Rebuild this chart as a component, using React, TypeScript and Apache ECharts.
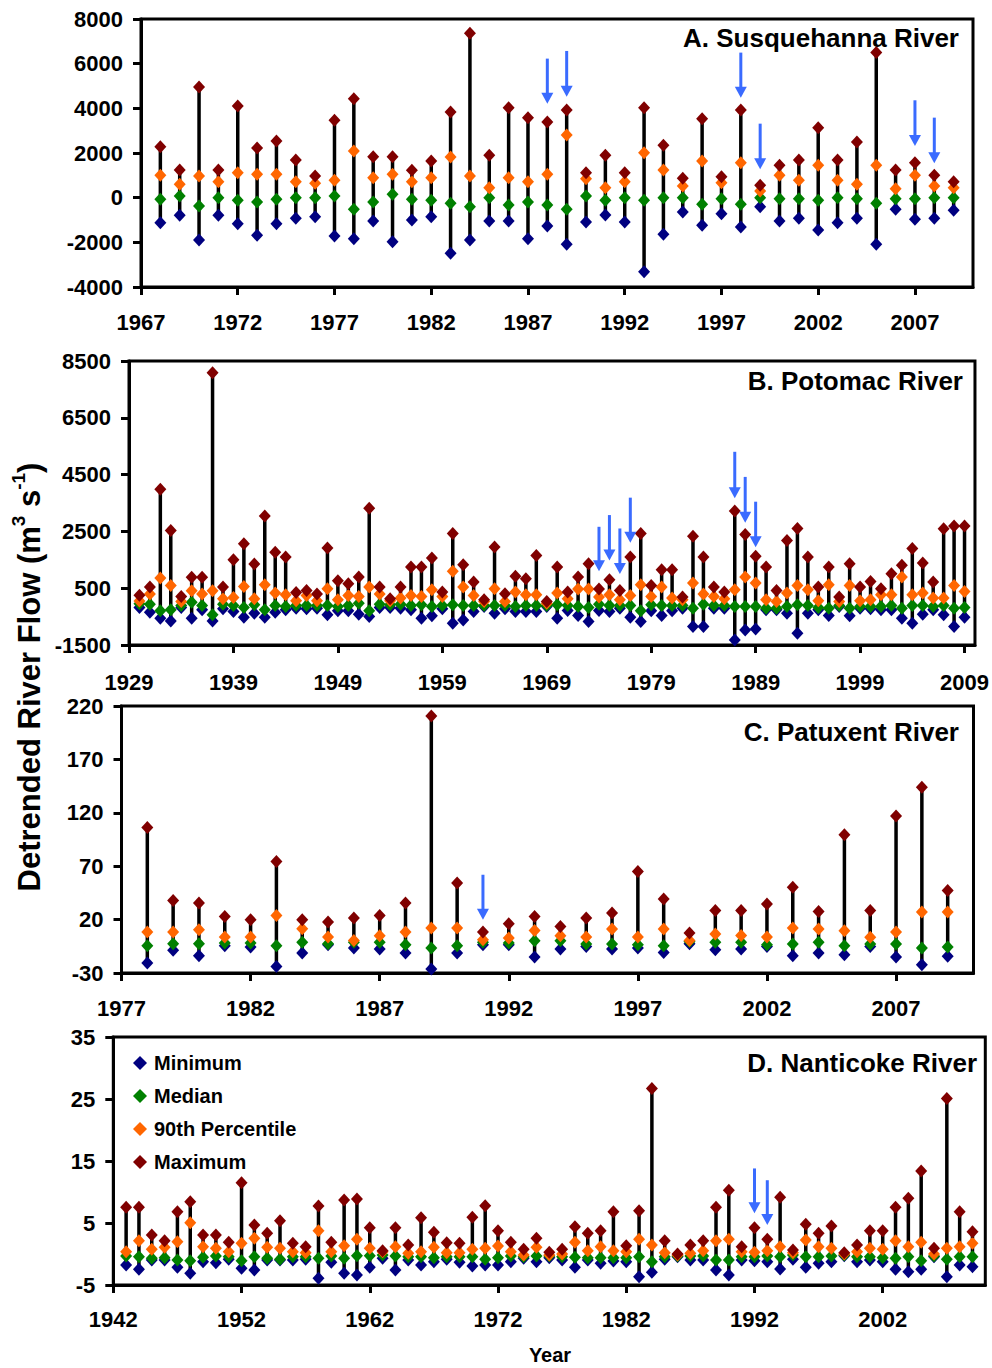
import React, { useEffect, useRef } from "react";
import * as echarts from "echarts";

const FONT = "'Liberation Sans', Arial, Helvetica, sans-serif";
const C_MIN = "#000080";
const C_MED = "#008000";
const C_P90 = "#FF6600";
const C_MAX = "#800000";
const C_ARROW = "#3A6BFF";

// ---------- A. Susquehanna River (1968-2009) ----------
const firstYearA = 1968;
const minA = [-1120, -790, -1896, -790, -1165, -1687, -1165, -926, -851, -1717, -1836, -1045, -1971, -1000, -851, -2493, -1896, -1045, -1045, -1836, -1269,
  -2090, -1090, -776, -1090, -3314, -1642, -642, -1239, -717, -1314, -403, -1045, -926, -1448, -1120, -926, -2090, -522, -970, -926, -567];
const medA = [-75, 75, -373, 0, -120, -194, -75, 0, 0, 75, -522, -194, 149, -75, -120, -254, -403, 0, -328, -194, -328,
  -522, 75, -120, 0, -120, 0, 0, -299, -45, -299, 0, -45, -45, -120, 0, -45, -254, -45, -45, 0, 0];
const p90A = [1000, 597, 970, 717, 1120, 1045, 1045, 717, 642, 776, 2090, 896, 1045, 717, 896, 1821, 970, 448, 896, 717, 1045,
  2807, 851, 448, 717, 2015, 1239, 523, 1642, 672, 1568, 299, 1000, 776, 1448, 776, 597, 1448, 403, 1000, 523, 448];
const maxA = [2284, 1240, 4957, 1240, 4106, 2225, 2538, 1687, 970, 3464, 4434, 1836, 1836, 1224, 1642, 3837, 7360, 1896, 4031, 3583, 3389,
  3927, 1120, 1896, 1120, 4031, 2344, 866, 3538, 941, 3927, 552, 1448, 1687, 3135, 1687, 2493, 6495, 1239, 1568, 1000, 717];
const arrowsA = [[1988, 6226, 4210], [1989, 6569, 4524], [1998, 6495, 4479], [1999, 3314, 1269], [2007, 4360, 2314], [2008, 3583, 1538]];
const xTicksA = [1967, 1972, 1977, 1982, 1987, 1992, 1997, 2002, 2007];
const yTicksA = [-4000, -2000, 0, 2000, 4000, 6000, 8000];

// ---------- B. Potomac River (1930-2009) ----------
const firstYearB = 1930;
const minB = [-180, -345, -557, -651, -180, -557, -262, -651, -227, -321, -521, -380, -521, -345, -262, -203, -227, -203, -439, -297,
  -297, -415, -498, -180, -180, -203, -262, -557, -474, -227, -734, -616, -321, -144, -380, -227, -321, -321, -321, -144,
  -557, -286, -462, -675, -286, -321, -203, -521, -675, -297, -462, -297, -203, -851, -851, -203, -203, -1323, -969, -934,
  -262, -262, -380, -1087, -380, -262, -462, -144, -474, -203, -227, -262, -262, -557, -734, -415, -262, -439, -851, -521];
const medB = [-50, -62, -297, -262, -109, 9, -109, -439, -62, -109, -180, -85, -262, -109, -144, -109, -109, -109, -109, -144,
  -109, -26, -297, -62, -85, -62, -109, -85, -144, -109, -85, -109, -109, -109, -109, -109, -144, -109, -109, -109,
  -85, -109, -144, -180, -62, -109, -109, -109, -297, -85, -109, -109, -109, -203, -62, -109, -109, -144, -144, -144,
  -203, -203, -144, -85, -109, -180, -203, -109, -203, -144, -144, -144, -109, -203, -109, -109, -144, -109, -203, -180];
const p90B = [50, 292, 858, 599, 33, 410, 292, 410, 127, 174, 563, 127, 622, 327, 268, 56, 245, 56, 481, 92,
  245, 209, 540, 292, 56, 151, 245, 209, 445, 209, 1094, 540, 245, 33, 481, 33, 363, 268, 268, -26,
  327, 127, 469, 469, 186, 268, 92, 245, 622, 209, 540, 151, 92, 681, 292, 209, 127, 445, 894, 681,
  92, 33, 327, 599, 445, 56, 622, 33, 599, 56, 92, 268, 268, 894, 268, 327, 151, 151, 599, 386];
const maxB = [250, 540, 3982, 2532, 210, 882, 882, 8085, 540, 1506, 2061, 1353, 3039, 1766, 1601, 351, 422, 292, 1919, 764,
  658, 894, 3311, 540, 127, 540, 1247, 1247, 1565, 363, 2426, 1330, 717, 92, 1955, 304, 917, 834, 1648, 33,
  1247, 363, 894, 1365, 469, 799, 422, 1601, 2426, 599, 1153, 1153, 186, 2332, 1601, 540, 363, 3216, 2391, 1624,
  1247, 422, 2178, 2603, 1601, 540, 1247, 186, 1365, 540, 740, 481, 1011, 1306, 1896, 1388, 717, 2591, 2686, 2686];
const arrowsB = [[1974, 2662, 1094], [1975, 3075, 1471], [1976, 2603, 1000], [1977, 3688, 2096], [1987, 5303, 3664], [1988, 4419, 2803], [1989, 3546, 1943]];
const xTicksB = [1929, 1939, 1949, 1959, 1969, 1979, 1989, 1999, 2009];
const yTicksB = [-1500, 500, 2500, 4500, 6500, 8500];

// ---------- C. Patuxent River (1978-2009) ----------
const firstYearC = 1978;
const minC = [-20.6, -8.8, -13.8, -4.4, -5.7, -23.8, -11.3, -3.5, -6.6, -7.6, -11.3, -26.3, -11.3, -3.5, -3.5, -15.0,
  -7.6, -5.1, -7.6, -6.6, -10.7, -2.6, -8.2, -7.6, -5.1, -13.8, -11.3, -12.9, -5.1, -15.0, -22.2, -14.4];
const medC = [-4.4, -2.6, -2.6, -1.9, -1.9, -4.4, -1.3, -2.6, -1.3, -1.3, -3.5, -6.6, -4.4, -1.3, -1.9, 0.2,
  0.2, -2.9, -2.9, -3.5, -4.4, -0.4, -1.3, -1.3, -3.5, -2.9, -1.3, -4.4, -2.9, -2.9, -6.6, -5.7];
const p90C = [8.3, 8.3, 10.5, 3.7, 3.7, 23.9, 11.5, 3.7, 0.5, 4.9, 8.3, 12.1, 12.1, 1.2, 2.7, 9.9,
  4.9, 3.7, 11.1, 3.7, 11.1, 0.5, 6.5, 5.2, 3.7, 12.1, 11.1, 9.6, 3.4, 8.3, 27.0, 27.0];
const maxC = [106.2, 38.0, 35.5, 23.0, 19.9, 74.4, 19.9, 17.7, 21.4, 23.9, 35.5, 210.6, 54.2, 8.3, 16.1, 23.0,
  13.6, 21.4, 26.1, 65.1, 39.2, 7.4, 28.6, 28.6, 34.5, 50.4, 27.7, 99.4, 28.6, 117.1, 143.9, 47.3];
const arrowsC = [[1991, 62, 19.9]];
const xTicksC = [1977, 1982, 1987, 1992, 1997, 2002, 2007];
const yTicksC = [-30, 20, 70, 120, 170, 220];

// ---------- D. Nanticoke River (1943-2009) ----------
const firstYearD = 1943;
const minD = [-1.77, -2.47, -0.97, -0.97, -2.15, -3.12, -1.24, -1.40, -0.86, -2.31, -2.58, -0.97, -0.97, -0.97, -0.86, -3.92, -1.34, -3.12, -3.39, -2.15, -0.70, -2.58,
  -0.97, -1.77, -1.24, -0.86, -1.34, -1.94, -1.77, -1.77, -1.24, -0.70, -1.24, -0.59, -0.97, -2.15, -0.97, -1.51, -1.13, -1.24, -3.66, -2.96, -0.86, -0.43, -0.97,
  -0.97, -2.58, -3.39, -0.97, -1.08, -1.24, -2.42, -0.86, -2.15, -1.51, -1.24, -0.27, -1.24, -0.97, -1.24, -2.47, -2.85, -2.47, -0.43, -3.66, -1.77, -2.04];
const medD = [-0.32, -0.43, -0.70, -0.59, -0.97, -1.08, -0.54, -0.32, -0.43, -1.08, -0.43, -0.70, -0.86, -0.43, -0.43, -0.70, -0.32, -0.70, -0.27, -0.27, -0.16, -0.32,
  -0.43, -0.43, -0.59, -0.43, -0.43, -0.43, -0.86, -0.59, -0.32, -0.43, -0.32, -0.32, -0.43, -0.54, -0.59, -0.59, -0.59, -0.59, -0.43, -1.24, -0.43, -0.32, -0.32,
  -0.32, -0.97, -0.97, -0.43, -0.43, -0.32, -0.43, -0.16, -0.43, -0.43, -0.32, -0.16, -0.43, -0.43, -0.59, -0.70, -0.43, -1.08, -0.32, -0.86, -0.43, -0.43];
const p90D = [0.38, 2.15, 0.75, 1.07, 1.99, 5.05, 1.18, 0.91, 0.38, 1.72, 2.53, 1.07, 0.91, 0.38, 0.21, 3.76, 0.38, 1.34, 2.37, 0.91, 0.38, 1.18,
  0.11, 0.38, 1.07, 0.21, 0.21, 0.75, 0.91, 1.29, 0.38, -0.16, 1.07, -0.16, 0.0, 1.88, 0.54, 1.18, 0.54, 0.38, 2.37, 1.45, 0.21, -0.16, 0.11,
  0.54, 2.15, 2.37, 0.38, 0.27, 0.54, 1.18, 0.21, 2.26, 1.18, 0.91, 0.0, 0.38, 0.91, 0.75, 2.15, 1.18, 1.88, 0.0, 0.91, 1.18, 1.72];
const maxD = [7.53, 7.53, 3.06, 2.15, 6.83, 8.44, 3.06, 3.06, 1.88, 11.5, 4.68, 3.33, 5.38, 1.72, 1.18, 7.74, 1.88, 8.71, 8.87, 4.25, 0.54, 4.25,
  1.45, 5.86, 3.49, 1.83, 1.72, 5.91, 7.79, 3.76, 1.88, 0.75, 2.53, 0.27, 0.75, 4.41, 3.33, 3.76, 6.83, 1.34, 6.99, 26.7, 2.15, 0.0, 1.45,
  2.15, 7.53, 10.3, 1.18, 4.25, 2.37, 9.14, 0.64, 4.78, 3.33, 4.52, 0.21, 1.45, 3.76, 3.76, 7.53, 8.98, 13.4, 0.91, 25.1, 6.83, 3.60];
const arrowsD = [[1992, 13.8, 6.56], [1993, 11.9, 4.68]];
const xTicksD = [1942, 1952, 1962, 1972, 1982, 1992, 2002];
const yTicksD = [-5, 5, 15, 25, 35];

const legendNames = ["Minimum", "Median", "90th Percentile", "Maximum"];
const yAxisTitle = "Detrended River Flow";
const xAxisTitle = "Year";

const panels = [
  { title: "A. Susquehanna River", first: firstYearA, min: minA, med: medA, p90: p90A, max: maxA, arrows: arrowsA,
    xTicks: xTicksA, yTicks: yTicksA, xMin: 1967, xMax: 2010, grid: { left: 141, top: 19, width: 832, height: 268 }, xMargin: 24, titleXY: [959, 38] },
  { title: "B. Potomac River", first: firstYearB, min: minB, med: medB, p90: p90B, max: maxB, arrows: arrowsB,
    xTicks: xTicksB, yTicks: yTicksB, xMin: 1929, xMax: 2010, grid: { left: 129, top: 361, width: 846, height: 284 }, xMargin: 26, titleXY: [963, 381] },
  { title: "C. Patuxent River", first: firstYearC, min: minC, med: medC, p90: p90C, max: maxC, arrows: arrowsC,
    xTicks: xTicksC, yTicks: yTicksC, xMin: 1977, xMax: 2010, grid: { left: 121.5, top: 706, width: 852, height: 267 }, xMargin: 24, titleXY: [959, 732] },
  { title: "D. Nanticoke River", first: firstYearD, min: minD, med: medD, p90: p90D, max: maxD, arrows: arrowsD,
    xTicks: xTicksD, yTicks: yTicksD, xMin: 1942, xMax: 2010, grid: { left: 113.3, top: 1037, width: 872, height: 248 }, xMargin: 23, titleXY: [977, 1063] },
];

function buildOption() {
  const grid: any[] = [];
  const xAxis: any[] = [];
  const yAxis: any[] = [];
  const series: any[] = [];
  const labelStyle = { fontSize: 22, fontWeight: "bold", color: "#000", fontFamily: FONT, formatter: (v: number) => String(v) };

  panels.forEach((p, i) => {
    grid.push({ ...p.grid, show: true, borderColor: "#000", borderWidth: 3, backgroundColor: "transparent" });
    xAxis.push({
      type: "value", gridIndex: i, min: p.xMin, max: p.xMax,
      axisLine: { show: true, onZero: false, lineStyle: { color: "#000", width: 3 } },
      axisTick: { show: true, length: 8, lineStyle: { color: "#000", width: 3 }, customValues: p.xTicks },
      axisLabel: { ...labelStyle, customValues: p.xTicks, margin: p.xMargin },
      splitLine: { show: false },
    });
    yAxis.push({
      type: "value", gridIndex: i, min: p.yTicks[0], max: p.yTicks[p.yTicks.length - 1],
      axisLine: { show: true, onZero: false, lineStyle: { color: "#000", width: 3 } },
      axisTick: { show: true, length: 8, lineStyle: { color: "#000", width: 3 }, customValues: p.yTicks },
      axisLabel: { ...labelStyle, customValues: p.yTicks, margin: 18 },
      splitLine: { show: false },
    });
    const years = p.min.map((_, k) => p.first + k);
    series.push({
      type: "custom", xAxisIndex: i, yAxisIndex: i, z: 1, silent: true,
      data: years.map((y, k) => [y, p.min[k], p.max[k]]),
      encode: { x: 0, y: [1, 2] },
      renderItem: (params: any, api: any) => {
        const a = api.coord([api.value(0), api.value(1)]);
        const b = api.coord([api.value(0), api.value(2)]);
        return { type: "line", shape: { x1: a[0], y1: a[1], x2: b[0], y2: b[1] }, style: { stroke: "#000", lineWidth: 3.5 } };
      },
    });
    const sets = [[legendNames[0], p.min, C_MIN], [legendNames[1], p.med, C_MED], [legendNames[2], p.p90, C_P90], [legendNames[3], p.max, C_MAX]] as any[];
    sets.forEach(([name, vals, color], j) => {
      series.push({
        type: "scatter", name, xAxisIndex: i, yAxisIndex: i, z: 2 + j,
        symbol: "diamond", symbolSize: [12, 13],
        itemStyle: { color, opacity: 1 },
        data: years.map((y, k) => [y, vals[k]]),
      });
    });
    series.push({
      type: "custom", xAxisIndex: i, yAxisIndex: i, z: 10, silent: true,
      data: p.arrows,
      encode: { x: 0, y: [1, 2] },
      renderItem: (params: any, api: any) => {
        const top = api.coord([api.value(0), api.value(1)]);
        const tip = api.coord([api.value(0), api.value(2)]);
        const hh = 11, hw = 6;
        return {
          type: "group",
          children: [
            { type: "line", shape: { x1: top[0], y1: top[1], x2: tip[0], y2: tip[1] - hh + 1 }, style: { stroke: C_ARROW, lineWidth: 3 } },
            { type: "polygon", shape: { points: [[tip[0] - hw, tip[1] - hh], [tip[0] + hw, tip[1] - hh], [tip[0], tip[1]]] }, style: { fill: C_ARROW } },
          ],
        };
      },
    });
  });

  const graphic: any[] = panels.map((p) => ({
    type: "text", x: p.titleXY[0], y: p.titleXY[1], z: 20,
    style: { text: p.title, fill: "#000", font: `bold 26px ${FONT}`, textAlign: "right", textVerticalAlign: "middle" },
  }));
  graphic.push({
    type: "text", x: 27, y: 677, rotation: Math.PI / 2, z: 20,
    style: {
      text: `{a|${yAxisTitle} (m}{s|3}{a| s}{s|-1}{a|)}`,
      textAlign: "center", textVerticalAlign: "middle",
      rich: {
        a: { fontSize: 31, fontWeight: "bold", fontFamily: FONT, fill: "#000", lineHeight: 36, verticalAlign: "bottom" },
        s: { fontSize: 19, fontWeight: "bold", fontFamily: FONT, fill: "#000", lineHeight: 36, verticalAlign: "top" },
      },
    },
  });
  graphic.push({
    type: "text", x: 550, y: 1355, z: 20,
    style: { text: xAxisTitle, fill: "#000", font: `bold 20px ${FONT}`, textAlign: "center", textVerticalAlign: "middle" },
  });

  return {
    animation: false,
    backgroundColor: "#fff",
    grid, xAxis, yAxis, series, graphic,
    legend: {
      data: legendNames, orient: "vertical", left: 128, top: 1048, itemWidth: 14, itemHeight: 14, itemGap: 13,
      icon: "diamond", selectedMode: false,
      textStyle: { fontSize: 20, fontWeight: "bold", fontFamily: FONT, color: "#000", padding: [0, 0, 0, 2] },
    },
  };
}

export default function App() {
  const ref = useRef<HTMLDivElement>(null);
  useEffect(() => {
    if (!ref.current) return;
    const chart = echarts.init(ref.current, null, { renderer: "svg" });
    chart.setOption(buildOption() as any);
    return () => chart.dispose();
  }, []);
  return <div ref={ref} style={{ position: "absolute", left: 0, top: 0, width: 992, height: 1368 }} />;
}
